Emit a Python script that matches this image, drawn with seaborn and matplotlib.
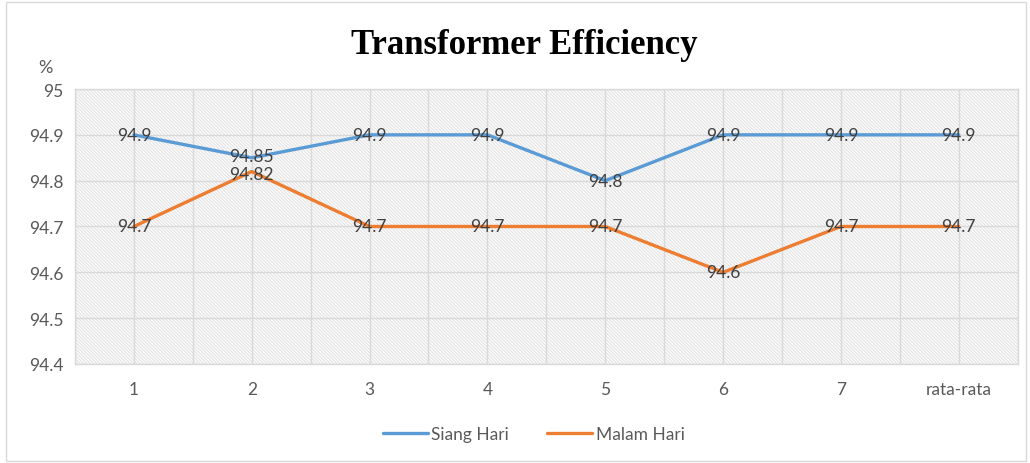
import numpy as np
import pandas as pd
import matplotlib
matplotlib.use("Agg")
import matplotlib.pyplot as plt
import seaborn as sns
from matplotlib.patches import Rectangle

# data
categories = ['1', '2', '3', '4', '5', '6', '7', 'rata-rata']
siang_hari = [94.9, 94.85, 94.9, 94.9, 94.8, 94.9, 94.9, 94.9]
malam_hari = [94.7, 94.82, 94.7, 94.7, 94.7, 94.6, 94.7, 94.7]
y_ticks = [94.4, 94.5, 94.6, 94.7, 94.8, 94.9, 95]

sns.set_theme(style='white')
plt.rcParams['font.family'] = ['Lato', 'DejaVu Sans']
plt.rcParams['hatch.color'] = '#e4e4e4'
plt.rcParams['hatch.linewidth'] = 0.9

df = pd.DataFrame({
    'kategori': categories * 2,
    'efisiensi': siang_hari + malam_hari,
    'seri': ['Siang Hari'] * len(categories) + ['Malam Hari'] * len(categories),
})

fig = plt.figure(figsize=(10.3, 4.64), dpi=100)
ax = fig.add_axes([0.0728, 0.2134, 0.9152, 0.5926])

# hatched plot background
ax.add_patch(Rectangle((0, 0), 1, 1, transform=ax.transAxes, facecolor='white',
                       hatch='\\' * 10, edgecolor='#e4e4e4', linewidth=0, zorder=0))

palette = {'Siang Hari': '#5B9BD5', 'Malam Hari': '#ED7D31'}
sns.lineplot(data=df, x='kategori', y='efisiensi', hue='seri', palette=palette,
             sort=False, linewidth=2.4, ax=ax, zorder=3)

ax.set_xlim(-0.5, len(categories) - 0.5)
ax.set_ylim(94.4, 95)
ax.set_yticks(y_ticks)
ax.set_yticklabels([f'{v:g}' for v in y_ticks])
ax.set_xticks(range(len(categories)))
ax.set_xticklabels(categories)
ax.set_xticks(np.arange(-0.5, len(categories), 1.0), minor=True)
ax.grid(True, which='both', color='#d9d9d9', linewidth=1.0, zorder=1)
ax.set_axisbelow(True)
ax.tick_params(axis='both', which='both', length=0, labelsize=12.5, colors='#595959')
ax.tick_params(axis='x', pad=12)
ax.tick_params(axis='y', pad=8)
ax.set_xlabel('')
ax.set_ylabel('')
for s in ax.spines.values():
    s.set_color('#d9d9d9')
    s.set_linewidth(1.0)

# data labels (the two close ones at "2" nudged apart a little)
for i, v in enumerate(siang_hari):
    dy = 1.5 if abs(v - malam_hari[i]) < 0.05 else 0
    ax.annotate(f'{v:g}', (i, v), xytext=(0, dy), textcoords='offset points',
                ha='center', va='center', fontsize=12.5, color='#404040', zorder=4)
for i, v in enumerate(malam_hari):
    dy = -1.5 if abs(v - siang_hari[i]) < 0.05 else 0
    ax.annotate(f'{v:g}', (i, v), xytext=(0, dy), textcoords='offset points',
                ha='center', va='center', fontsize=12.5, color='#404040', zorder=4)

fig.text(0.044, 0.853, '%', ha='center', va='center', fontsize=13, color='#595959')
fig.text(0.509, 0.903, 'Transformer Efficiency', ha='center', va='center',
         fontsize=25, fontweight='bold', family='Liberation Serif', color='black')

ax.legend_.remove()
handles, labels = ax.get_legend_handles_labels()
fig.legend(handles, labels, loc='center', bbox_to_anchor=(0.518, 0.062), ncol=2,
           frameon=False, fontsize=12.5, labelcolor='#595959', handlelength=2.6,
           handletextpad=0.2, columnspacing=2.2)

# outer chart border
fig.add_artist(Rectangle((0.006, 0.004), 0.99, 0.99, transform=fig.transFigure,
                         fill=False, edgecolor='#d9d9d9', linewidth=1.0))

fig.savefig('out.png', dpi=100)
